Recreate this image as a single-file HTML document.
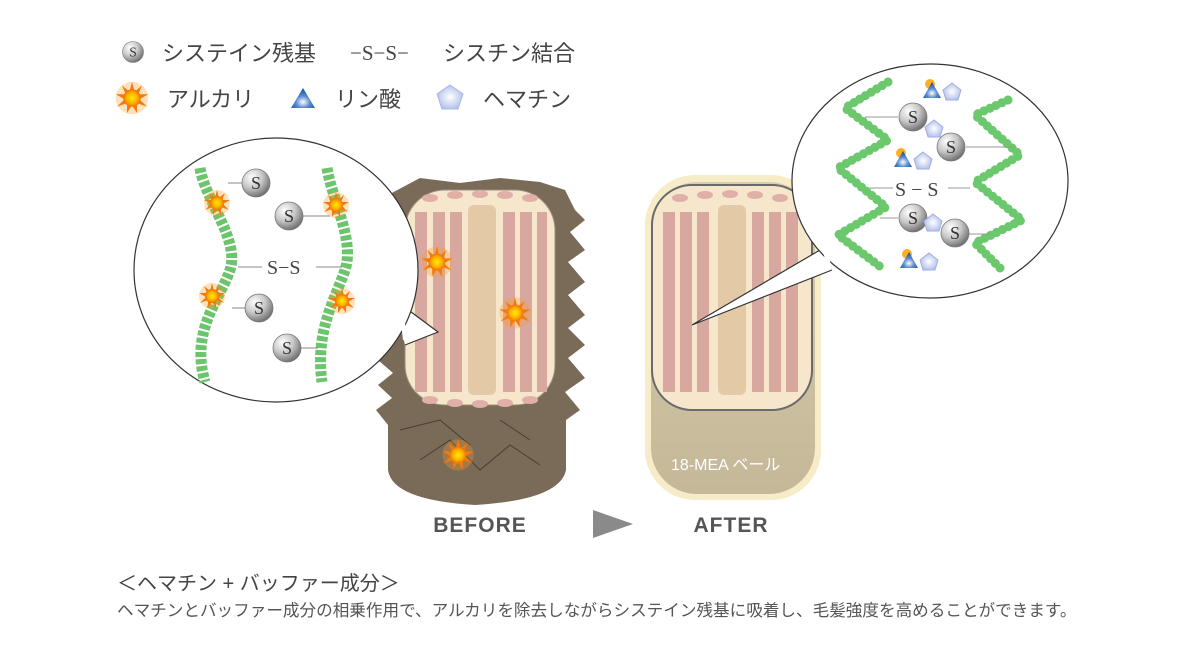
<!DOCTYPE html>
<html><head><meta charset="utf-8"><style>
body{margin:0;background:#fff;}
svg{display:block;}
.s{font-family:"Liberation Sans","Noto Sans CJK JP",sans-serif;}
.sf{font-family:"Liberation Serif",serif;}
</style></head><body>
<svg width="1200" height="651" viewBox="0 0 1200 651" xmlns="http://www.w3.org/2000/svg">
<defs>
<radialGradient id="ball" cx="35%" cy="30%" r="75%"><stop offset="0" stop-color="#fff"/><stop offset="0.5" stop-color="#c8c8c8"/><stop offset="1" stop-color="#6a6a6a"/></radialGradient>
<radialGradient id="sun" cx="50%" cy="50%" r="50%"><stop offset="0" stop-color="#ffee00"/><stop offset="0.6" stop-color="#ffb000"/><stop offset="1" stop-color="#f07000"/></radialGradient>
<radialGradient id="tri" cx="50%" cy="70%" r="60%"><stop offset="0" stop-color="#fff"/><stop offset="0.5" stop-color="#5a8ad0"/><stop offset="1" stop-color="#1a5aa8"/></radialGradient>
<radialGradient id="pent" cx="50%" cy="50%" r="60%"><stop offset="0" stop-color="#fff"/><stop offset="1" stop-color="#a8b8e8"/></radialGradient>
<linearGradient id="veil" x1="0" y1="0" x2="0" y2="1"><stop offset="0" stop-color="#d8cdb0"/><stop offset="1" stop-color="#c4b898"/></linearGradient>
<g id="S"><circle r="14" fill="url(#ball)" stroke="#777" stroke-width="0.8"/><text y="6" text-anchor="middle" class="sf" font-size="18" fill="#333">S</text></g>
<g id="sb"><circle r="13" fill="#ff9a20" opacity="0.3"/><polygon points="0,-13 2,-5 8,-10 5,-3 13,-3 6,1 12,7 4,4 4,12 0,6 -4,12 -4,4 -12,7 -6,1 -13,-3 -5,-3 -8,-10 -2,-5" fill="#f47a10"/><circle r="7" fill="url(#sun)"/></g>
<g id="tp"><circle cx="-2" cy="-8" r="5" fill="#ffb020"/><polygon points="0,-10 9,6 -9,6" fill="url(#tri)"/><polygon points="20,-9 29,-2 26,8 14,8 11,-2" fill="url(#pent)" stroke="#9fb0e0"/></g>
</defs>

<!-- legend -->
<use href="#S" transform="translate(133,52) scale(0.75)"/>
<text x="162" y="61" font-size="22" fill="#444" class="s">システイン残基</text>
<text x="350" y="60" font-size="21" fill="#444" class="sf">−S−S−</text>
<text x="443" y="61" font-size="22" fill="#444" class="s">シスチン結合</text>
<use href="#sb" transform="translate(132,98) scale(1.25)"/>
<text x="167" y="107" font-size="22" fill="#444" class="s">アルカリ</text>
<polygon points="303,88 315,108 291,108" fill="url(#tri)"/>
<text x="335" y="107" font-size="22" fill="#444" class="s">リン酸</text>
<polygon points="450,85 463,94 458,109 442,109 437,94" fill="url(#pent)" stroke="#a8b8e8"/>
<text x="483" y="107" font-size="22" fill="#444" class="s">ヘマチン</text>

<!-- BEFORE hair -->
<path d="M388,195 L420,178 L460,183 L500,178 L540,182 L565,190 L575,210 L585,220 L570,232 L585,250 L568,262 L585,282 L568,295 L585,315 L568,328 L585,345 L568,358 L585,378 L565,392 L580,410 L566,420 L566,470 Q560,500 475,505 Q392,500 388,470 L388,425 L376,410 L392,398 L378,385 L393,373 L378,360 L393,345 L385,330 Z" fill="#7a6a58"/>
<path d="M420,460 L450,440 L480,470 L510,445 L540,465 M400,430 L440,420 L470,445 M500,420 L530,440" stroke="#4a3c30" fill="none" stroke-width="1"/>
<rect x="405" y="190" width="150" height="215" rx="40" fill="#f5e6cc" stroke="#9a9080"/>
<g fill="#d8a8a0"><rect x="415" y="212" width="12" height="180"/><rect x="433" y="212" width="12" height="180"/><rect x="450" y="212" width="12" height="180"/><rect x="503" y="212" width="12" height="180"/><rect x="520" y="212" width="12" height="180"/><rect x="537" y="212" width="10" height="180"/></g>
<rect x="468" y="205" width="28" height="190" rx="6" fill="#e3c9a6"/>
<g fill="#e0b0a8"><ellipse cx="430" cy="198" rx="8" ry="4"/><ellipse cx="455" cy="195" rx="8" ry="4"/><ellipse cx="480" cy="194" rx="8" ry="4"/><ellipse cx="505" cy="195" rx="8" ry="4"/><ellipse cx="530" cy="198" rx="8" ry="4"/><ellipse cx="430" cy="400" rx="8" ry="4"/><ellipse cx="455" cy="403" rx="8" ry="4"/><ellipse cx="480" cy="404" rx="8" ry="4"/><ellipse cx="505" cy="403" rx="8" ry="4"/><ellipse cx="530" cy="400" rx="8" ry="4"/></g>
<use href="#sb" transform="translate(437,262) scale(1.2)"/>
<use href="#sb" transform="translate(515,313) scale(1.2)"/>
<use href="#sb" transform="translate(458,455) scale(1.2)"/>

<!-- AFTER hair -->
<rect x="645" y="175" width="176" height="325" rx="50" fill="#f6ecc8"/>
<rect x="651" y="182" width="164" height="312" rx="46" fill="url(#veil)"/>
<rect x="652" y="185" width="160" height="225" rx="40" fill="#f5e6cc" stroke="#6a6a6a" stroke-width="2"/>
<g fill="#d8a8a0"><rect x="663" y="212" width="12" height="180"/><rect x="680" y="212" width="12" height="180"/><rect x="697" y="212" width="12" height="180"/><rect x="752" y="212" width="12" height="180"/><rect x="769" y="212" width="12" height="180"/><rect x="786" y="212" width="12" height="180"/></g>
<rect x="718" y="205" width="28" height="190" rx="6" fill="#e3c9a6"/>
<g fill="#e0b0a8"><ellipse cx="680" cy="198" rx="8" ry="4"/><ellipse cx="705" cy="195" rx="8" ry="4"/><ellipse cx="730" cy="194" rx="8" ry="4"/><ellipse cx="755" cy="195" rx="8" ry="4"/><ellipse cx="780" cy="198" rx="8" ry="4"/></g>
<text x="671" y="470" font-size="16" fill="#fff" class="s">18-MEA ベール</text>

<!-- labels -->
<text x="480" y="532" text-anchor="middle" font-size="21" font-weight="bold" fill="#555" letter-spacing="1" class="s">BEFORE</text>
<polygon points="593,510 633,524 593,538" fill="#8a8a8a"/>
<text x="731" y="532" text-anchor="middle" font-size="21" font-weight="bold" fill="#555" letter-spacing="1" class="s">AFTER</text>

<!-- left bubble -->
<path d="M395,300 L438,332 L405,345" fill="#fff" stroke="#333" stroke-width="1.2"/>
<ellipse cx="276" cy="270" rx="142" ry="132" fill="#fff" stroke="#333" stroke-width="1.2"/>
<path d="M401,306 L405,340" stroke="#fff" stroke-width="4"/>
<path d="M200,168 C205,200 240,240 230,270 C220,300 190,330 205,382" stroke="#6cc46c" stroke-width="11" fill="none" stroke-dasharray="5 2"/>
<path d="M327,168 C332,200 355,240 345,270 C335,300 315,330 322,382" stroke="#6cc46c" stroke-width="11" fill="none" stroke-dasharray="5 2"/>
<g stroke="#888" stroke-width="1"><line x1="228" y1="183" x2="244" y2="183"/><line x1="232" y1="308" x2="246" y2="308"/><line x1="238" y1="267" x2="262" y2="267"/><line x1="316" y1="267" x2="342" y2="267"/><line x1="300" y1="216" x2="330" y2="216"/><line x1="300" y1="348" x2="318" y2="348"/></g>
<text x="267" y="274" class="sf" font-size="20" fill="#444">S−S</text>
<use href="#S" transform="translate(256,183)"/>
<use href="#S" transform="translate(289,216)"/>
<use href="#S" transform="translate(259,308)"/>
<use href="#S" transform="translate(287,348)"/>
<use href="#sb" transform="translate(217,203)"/>
<use href="#sb" transform="translate(336,205)"/>
<use href="#sb" transform="translate(212,296)"/>
<use href="#sb" transform="translate(342,301)"/>

<!-- right bubble -->
<path d="M820,250 L692,325 L832,270" fill="#fff" stroke="#333" stroke-width="1.2"/>
<ellipse cx="930" cy="181" rx="138" ry="117" fill="#fff" stroke="#333" stroke-width="1.2"/>
<path d="M825,252 L830,268" stroke="#fff" stroke-width="4"/>
<g stroke="#6cc86c" stroke-width="9" stroke-linecap="round" stroke-dasharray="0.1 6.5" fill="none">
<path d="M888,82 L845,108 L888,140 L838,168 L886,207 L838,235 L882,268"/>
<path d="M1008,100 L975,115 L1020,155 L975,182 L1022,220 L975,243 L1000,268"/>
</g>
<g stroke="#999" stroke-width="1"><line x1="865" y1="117" x2="898" y2="117"/><line x1="966" y1="147" x2="1015" y2="147"/><line x1="870" y1="188" x2="893" y2="188"/><line x1="948" y1="188" x2="970" y2="188"/><line x1="880" y1="218" x2="898" y2="218"/><line x1="968" y1="234" x2="990" y2="234"/></g>
<text x="895" y="196" class="sf" font-size="20" fill="#444">S − S</text>
<use href="#S" transform="translate(913,117)"/>
<polygon points="934,120 943,127 940,137 928,137 925,127" fill="url(#pent)" stroke="#9fb0e0"/>
<use href="#S" transform="translate(951,147)"/>
<use href="#S" transform="translate(913,218)"/>
<polygon points="933,214 942,221 939,231 927,231 924,221" fill="url(#pent)" stroke="#9fb0e0"/>
<use href="#S" transform="translate(955,233)"/>
<use href="#tp" transform="translate(932,92)"/>
<use href="#tp" transform="translate(903,161)"/>
<use href="#tp" transform="translate(909,262)"/>

<!-- bottom text -->
<text x="117" y="590" font-size="20" fill="#444" class="s">＜ヘマチン + バッファー成分＞</text>
<text x="117" y="616" font-size="16.6" fill="#555" class="s">ヘマチンとバッファー成分の相乗作用で、アルカリを除去しながらシステイン残基に吸着し、毛髪強度を高めることができます。</text>
</svg>
</body></html>
